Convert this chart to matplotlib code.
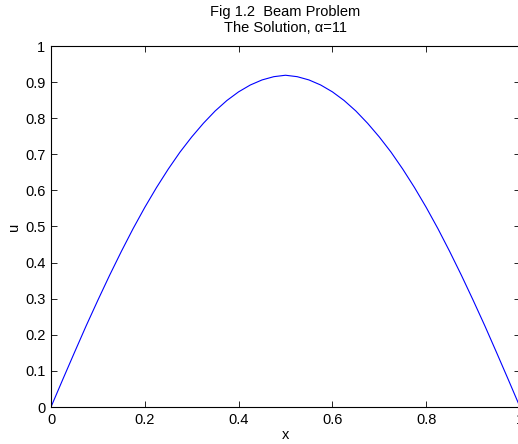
"Beam problem solution curve, MATLAB style"

import matplotlib
matplotlib.use("Agg")
import numpy as np
import matplotlib.pyplot as plt

# solution values (symmetric about x=0.5)
x_vals = [0.000, 0.025, 0.050, 0.075, 0.100, 0.125, 0.150, 0.175, 0.200, 0.225,
          0.250, 0.275, 0.300, 0.325, 0.350, 0.375, 0.400, 0.425, 0.450, 0.475,
          0.500, 0.525, 0.550, 0.575, 0.600, 0.625, 0.650, 0.675, 0.700, 0.725,
          0.750, 0.775, 0.800, 0.825, 0.850, 0.875, 0.900, 0.925, 0.950, 0.975,
          1.000]
u_vals = [0.000, 0.076, 0.151, 0.225, 0.296, 0.365, 0.431, 0.494, 0.553, 0.608,
          0.659, 0.706, 0.748, 0.786, 0.820, 0.849, 0.873, 0.892, 0.906, 0.915,
          0.919, 0.915, 0.906, 0.892, 0.873, 0.849, 0.820, 0.786, 0.748, 0.706,
          0.659, 0.608, 0.553, 0.494, 0.431, 0.365, 0.296, 0.225, 0.151, 0.076,
          0.000]

x_ticks = [0, 0.2, 0.4, 0.6, 0.8, 1]
y_ticks = [0, 0.1, 0.2, 0.3, 0.4, 0.5, 0.6, 0.7, 0.8, 0.9, 1]

plt.rcParams['font.family'] = ['Liberation Sans', 'DejaVu Sans']
plt.rcParams['font.size'] = 10.5

fig = plt.figure(figsize=(5.18, 4.44), dpi=100)
ax = fig.add_axes([51/518, 37/444, 469/518, 361/444])

ax.plot(x_vals, u_vals, color=(0, 0, 1), linewidth=0.8)

ax.set_xlim(0, 1)
ax.set_ylim(0, 1)
ax.set_xticks(x_ticks)
ax.set_xticklabels([f"{t:g}" for t in x_ticks])
ax.set_yticks(y_ticks)
ax.set_yticklabels([f"{t:g}" for t in y_ticks])
ax.tick_params(direction='in', top=True, right=True, length=4, width=0.6,
               pad=4, labelsize=10.5)
for sp in ax.spines.values():
    sp.set_linewidth(0.8)

ax.set_xlabel("x", labelpad=1)
ax.set_ylabel("u", labelpad=3)
ax.set_title("Fig 1.2  Beam Problem\nThe Solution, \u03b1=11", fontsize=10.5,
             linespacing=1.2, pad=10)

fig.savefig("out.png", dpi=100)
